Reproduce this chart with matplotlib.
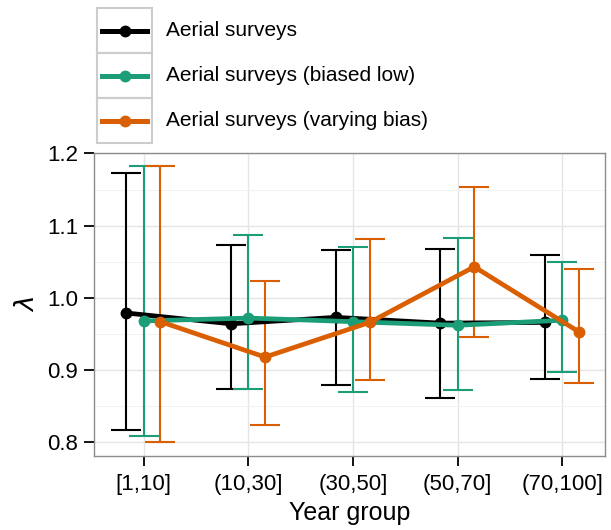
import numpy as np
import matplotlib.pyplot as plt
from matplotlib.patches import Rectangle
from matplotlib.lines import Line2D

plt.rcParams['font.family'] = ['Liberation Sans', 'DejaVu Sans']

groups = ['[1,10]', '(10,30]', '(30,50]', '(50,70]', '(70,100]']
labels = ['Aerial surveys', 'Aerial surveys (biased low)', 'Aerial surveys (varying bias)']
colors = ['#000000', '#1B9E77', '#D95F02']

# lambda estimates and interval bounds per year group
black_mid = [0.979, 0.964, 0.973, 0.965, 0.966]
black_lo = [0.817, 0.874, 0.880, 0.861, 0.887]
black_hi = [1.173, 1.073, 1.066, 1.068, 1.059]

green_mid = [0.968, 0.972, 0.967, 0.962, 0.969]
green_lo = [0.809, 0.874, 0.870, 0.872, 0.898]
green_hi = [1.183, 1.087, 1.070, 1.083, 1.050]

orange_mid = [0.967, 0.918, 0.966, 1.043, 0.953]
orange_lo = [0.800, 0.824, 0.886, 0.946, 0.882]
orange_hi = [1.182, 1.023, 1.081, 1.153, 1.040]

series = [(black_mid, black_lo, black_hi),
          (green_mid, green_lo, green_hi),
          (orange_mid, orange_lo, orange_hi)]
offsets = [-0.165, 0.0, 0.16]

W, H = 611, 530
fig = plt.figure(figsize=(W / 100, H / 100), dpi=100)
ax = fig.add_axes([93.5 / W, 1 - 456 / H, (605 - 93.5) / W, (456 - 152.7) / H])

x = np.arange(1, len(groups) + 1)
for (mid, lo, hi), off, c in zip(series, offsets, colors):
    xs = x + off
    mid = np.array(mid)
    err = [mid - np.array(lo), np.array(hi) - mid]
    ax.errorbar(xs, mid, yerr=err, fmt='none', ecolor=c, elinewidth=1.5,
                capsize=11, capthick=1.5, zorder=3)
    ax.plot(xs, mid, color=c, lw=3.4, marker='o', ms=7.5, zorder=4,
            solid_capstyle='round', solid_joinstyle='round')

ax.set_xlim(0.52, 5.41)
ax.set_ylim(0.781, 1.201)
ax.set_xticks(x)
ax.set_xticklabels(groups)
ax.set_yticks([0.8, 0.9, 1.0, 1.1, 1.2])
ax.set_yticklabels(['0.8', '0.9', '1.0', '1.1', '1.2'])
ax.set_yticks([0.85, 0.95, 1.05, 1.15], minor=True)
ax.tick_params(axis='both', which='major', labelsize=16, length=7, width=1.3,
               color='black', labelcolor='black')
ax.tick_params(axis='x', which='major', pad=6)
ax.tick_params(axis='y', which='major', pad=4)
ax.tick_params(axis='y', which='minor', length=0)
ax.grid(True, which='major', color='#e5e5e5', lw=1.0, zorder=0)
ax.grid(True, which='minor', axis='y', color='#f2f2f2', lw=0.7, zorder=0)
for s in ax.spines.values():
    s.set_color('#8c8c8c')
    s.set_linewidth(1.0)
ax.set_axisbelow(True)
ax.set_xlabel('Year group', fontsize=18, labelpad=4)
ax.set_ylabel(r'$\lambda$', fontsize=19, labelpad=6)

# ggplot-style legend above the panel
def fx(px):
    return px / W

def fy(py):
    return 1 - py / H

row_top = 8
row_h = 45
for i, (lab, c) in enumerate(zip(labels, colors)):
    top = row_top + i * row_h
    fig.add_artist(Rectangle((fx(97), fy(top + row_h)), fx(152) - fx(97),
                             fy(top) - fy(top + row_h), transform=fig.transFigure,
                             facecolor='white', edgecolor='#cccccc', lw=1.5))
    yc = fy(top + row_h / 2)
    fig.add_artist(Line2D([fx(102), fx(147)], [yc, yc], transform=fig.transFigure,
                          color=c, lw=3.6))
    fig.add_artist(Line2D([fx(124.5)], [yc], transform=fig.transFigure,
                          color=c, marker='o', ms=7.5))
    fig.text(fx(166), yc, lab, fontsize=15, va='center', ha='left')

fig.savefig('out.png', dpi=100)
